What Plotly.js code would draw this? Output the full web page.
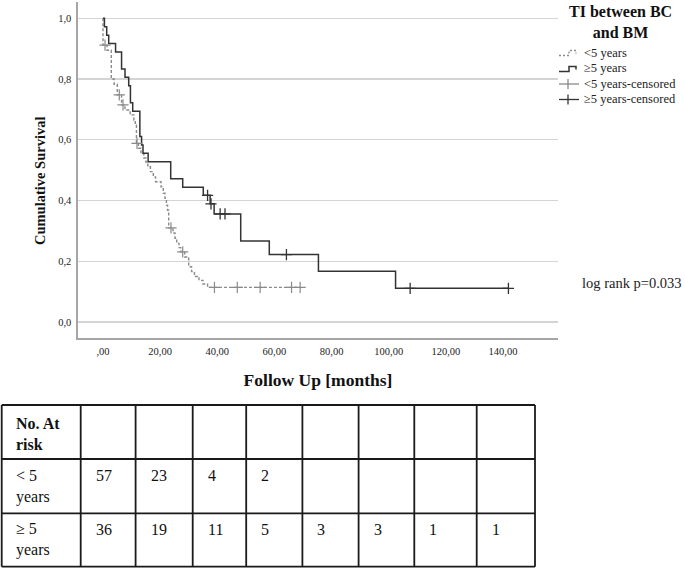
<!DOCTYPE html>
<html><head><meta charset="utf-8">
<script src="https://cdn.plot.ly/plotly-3.0.1.min.js"></script>
<style>html,body{margin:0;padding:0;background:#fff}#chart{width:685px;height:570px}</style>
</head><body><div id="chart"></div>
<script>
// ---- data ----
// <5 years group: event times (months) and cumulative survival after each event
const lt5Times = [0, 1.4, 2.9, 3.9, 5.0, 6.5, 7.7, 9.5, 10.8, 11.3, 11.7, 12.4, 13.3, 14.3, 15.0, 15.7, 16.6, 17.6, 18.4, 20.3, 21.1, 21.7, 22.2, 22.6, 23.0, 24.5, 25.2, 25.8, 26.6, 27.2, 28.6, 30.0, 31.0, 32.0, 33.6, 35.0, 36.6];
const lt5Surv  = [0.912, 0.895, 0.800, 0.783, 0.748, 0.715, 0.698, 0.682, 0.665, 0.648, 0.588, 0.572, 0.555, 0.540, 0.527, 0.511, 0.495, 0.478, 0.462, 0.445, 0.424, 0.407, 0.385, 0.368, 0.310, 0.293, 0.276, 0.259, 0.245, 0.231, 0.214, 0.182, 0.166, 0.150, 0.137, 0.125, 0.114];
const lt5Censor = [0.7, 5.7, 7.0, 11.9, 23.8, 27.9, 39.0, 47.0, 55.0, 66.0, 69.0];
// >=5 years group
const ge5Times = [0.5, 1.3, 2.0, 4.4, 6.5, 7.7, 9.0, 9.6, 10.4, 12.9, 13.5, 14.0, 15.8, 23.7, 27.9, 35.1, 37.5, 38.9, 48.2, 58.2, 75.4, 102.4];
const ge5Surv  = [0.972, 0.944, 0.917, 0.889, 0.833, 0.806, 0.778, 0.722, 0.694, 0.611, 0.583, 0.556, 0.528, 0.472, 0.444, 0.417, 0.389, 0.356, 0.267, 0.222, 0.167, 0.111];
const ge5Censor = [36.6, 37.8, 41.0, 42.7, 64.2, 107.5, 141.9];

const xTickVals = [0, 20, 40, 60, 80, 100, 120, 140];
const xTickText = [",00", "20,00", "40,00", "60,00", "80,00", "100,00", "120,00", "140,00"];
const yTickVals = [0, 0.2, 0.4, 0.6, 0.8, 1.0];
const yTickText = ["0,0", "0,2", "0,4", "0,6", "0,8", "1,0"];

const xTitle = "<b>Follow Up [months]</b>";
const yTitle = "<b>Cumulative Survival</b>";
const legendTitle = "<b>TI between BC<br>and BM</b>";
const legendLabels = ["&lt;5 years", "≥5 years", "&lt;5 years-censored", "≥5 years-censored"];
const logRankText = "log rank p=0.033";

const riskHeader = "<b>No. At<br>risk</b>";
const riskRowLabels = ["&lt; 5<br>years", "≥ 5<br>years"];
const riskLt5 = [57, 23, 4, 2, null, null, null, null];
const riskGe5 = [36, 19, 11, 5, 3, 3, 1, 1];

// ---- helpers ----
const SERIF = "Liberation Serif, Times New Roman, serif";
const C_LT5 = "#8a8a8a", C_GE5 = "#333333";
function survAt(times, surv, t) { let s = 1; for (let i = 0; i < times.length; i++) if (times[i] <= t) s = surv[i]; return s; }
function stepXY(times, surv, cens) {
  const end = Math.max(times[times.length - 1], cens[cens.length - 1]);
  return { x: [0].concat(times, [end]), y: [1].concat(surv, [surv[surv.length - 1]]) };
}
const s1 = stepXY(lt5Times, lt5Surv, lt5Censor);
const s2 = stepXY(ge5Times, ge5Surv, ge5Censor);

const traces = [
  { x: s1.x, y: s1.y, mode: "lines", line: { shape: "hv", color: C_LT5, width: 1.4, dash: "3px,2px" }, name: "<5 years", hoverinfo: "skip" },
  { x: s2.x, y: s2.y, mode: "lines", line: { shape: "hv", color: C_GE5, width: 1.5 }, name: "≥5 years", hoverinfo: "skip" },
  { x: lt5Censor, y: lt5Censor.map(t => survAt(lt5Times, lt5Surv, t)), mode: "markers",
    marker: { symbol: "cross-thin", size: 8, line: { color: C_LT5, width: 1.2 } }, name: "<5 years-censored" },
  { x: ge5Censor, y: ge5Censor.map(t => survAt(ge5Times, ge5Surv, t)), mode: "markers",
    marker: { symbol: "cross-thin", size: 8, line: { color: C_GE5, width: 1.3 } }, name: "≥5 years-censored" }
];

// pixel -> paper conversion for layout decorations
const L = 78, T = 2, W = 480, H = 336;
const PX = v => (v - L) / W, PY = v => (T + H - v) / H;

const shapes = [], annotations = [];
// y axis title (placed slightly below plot centre as in reference)
annotations.push({ xref: "paper", yref: "paper", x: PX(40), y: PY(181), xanchor: "center", yanchor: "middle", textangle: -90,
  text: yTitle, showarrow: false, font: { family: SERIF, size: 14.5, color: "#111" } });
// legend
annotations.push({ xref: "paper", yref: "paper", x: PX(620), y: PY(22), xanchor: "center", yanchor: "middle",
  text: legendTitle, showarrow: false, align: "center", font: { family: SERIF, size: 16, color: "#111" } });
const legY = [52.5, 68.5, 84, 99.5];
legendLabels.forEach((lab, i) => {
  annotations.push({ xref: "paper", yref: "paper", x: PX(582), y: PY(legY[i]), xanchor: "left", yanchor: "middle",
    text: lab, showarrow: false, font: { family: SERIF, size: 12.5, color: "#222" } });
});
function stepPath(yc) { return `M ${PX(559)},${PY(yc + 3)} L ${PX(569)},${PY(yc + 3)} L ${PX(569)},${PY(yc - 2)} L ${PX(576)},${PY(yc - 2)} L ${PX(576)},${PY(yc + 1)}`; }
shapes.push({ type: "path", xref: "paper", yref: "paper", path: stepPath(legY[0]), line: { color: C_LT5, width: 1.3, dash: "2px,2px" } });
shapes.push({ type: "path", xref: "paper", yref: "paper", path: stepPath(legY[1]), line: { color: C_GE5, width: 1.5 } });
[[legY[2], C_LT5], [legY[3], C_GE5]].forEach(([yc, c]) => {
  shapes.push({ type: "line", xref: "paper", yref: "paper", x0: PX(559), x1: PX(579), y0: PY(yc), y1: PY(yc), line: { color: c, width: 1.3 } });
  shapes.push({ type: "line", xref: "paper", yref: "paper", x0: PX(568), x1: PX(568), y0: PY(yc - 5), y1: PY(yc + 5), line: { color: c, width: 1.3 } });
});
annotations.push({ xref: "paper", yref: "paper", x: PX(684), y: PY(283), xanchor: "right", yanchor: "middle",
  text: logRankText, showarrow: false, font: { family: SERIF, size: 14.5, color: "#222" } });

// number-at-risk table
const rowsY = [405, 459, 513.3, 566.7];
const colsX = [1.7, 80.7, 135.6, 192.7, 246.2, 302.4, 358.6, 414.3, 476.7, 535];
rowsY.forEach(y => shapes.push({ type: "line", xref: "paper", yref: "paper", x0: PX(colsX[0]), x1: PX(colsX[colsX.length - 1]), y0: PY(y), y1: PY(y), line: { color: "#1a1a1a", width: 1.8 } }));
colsX.forEach(x => shapes.push({ type: "line", xref: "paper", yref: "paper", x0: PX(x), x1: PX(x), y0: PY(rowsY[0]), y1: PY(rowsY[3]), line: { color: "#1a1a1a", width: 1.8 } }));
const tFont = { family: SERIF, size: 16, color: "#111" };
annotations.push({ xref: "paper", yref: "paper", x: PX(14), y: PY(434), xanchor: "left", yanchor: "middle", align: "left", text: riskHeader, showarrow: false, font: tFont });
const rowTop = [476, 529];
riskRowLabels.forEach((lab, r) => {
  annotations.push({ xref: "paper", yref: "paper", x: PX(14), y: PY(rowTop[r] + 10.5), xanchor: "left", yanchor: "middle", align: "left", text: lab, showarrow: false, font: tFont });
});
[riskLt5, riskGe5].forEach((vals, r) => {
  vals.forEach((v, c) => {
    if (v === null) return;
    annotations.push({ xref: "paper", yref: "paper", x: PX(colsX[c + 1] + 13), y: PY(rowTop[r]), xanchor: "left", yanchor: "middle", text: String(v), showarrow: false, font: tFont });
  });
});

const layout = {
  width: 685, height: 570,
  margin: { l: L, r: 685 - L - W, t: T, b: 570 - T - H, pad: 0 },
  paper_bgcolor: "#fff", plot_bgcolor: "#fff",
  showlegend: false,
  xaxis: {
    range: [-8.75, 159.25], tickmode: "array", tickvals: xTickVals, ticktext: xTickText,
    showgrid: false, zeroline: false, showline: true, linecolor: "#a6a6a6", linewidth: 1.6,
    ticks: "outside", ticklen: 3, tickcolor: "rgba(0,0,0,0)",
    tickfont: { family: SERIF, size: 10.5, color: "#222" },
    title: { text: xTitle, font: { family: SERIF, size: 17.5, color: "#111" }, standoff: 17 }
  },
  yaxis: {
    range: [-0.0527, 1.0537], tickmode: "array", tickvals: yTickVals, ticktext: yTickText,
    showgrid: true, gridcolor: "#d4d4d4", gridwidth: 1.3, zeroline: false,
    showline: true, linecolor: "#a6a6a6", linewidth: 1.6,
    ticks: "outside", ticklen: 3, tickcolor: "rgba(0,0,0,0)",
    tickfont: { family: SERIF, size: 10.5, color: "#222" }
  },
  shapes: shapes, annotations: annotations
};
Plotly.newPlot("chart", traces, layout, { displayModeBar: false, staticPlot: true });
</script></body></html>
